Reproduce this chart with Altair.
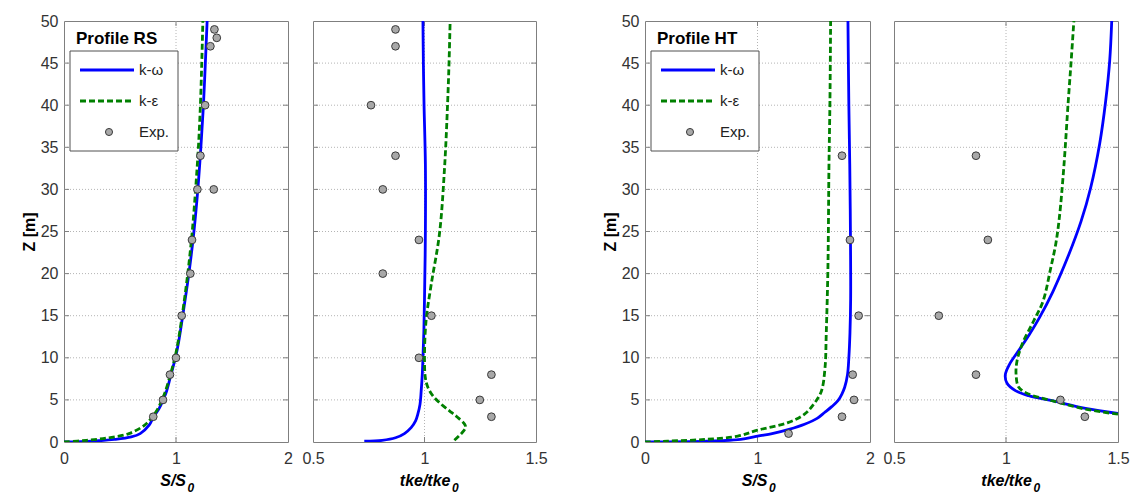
import altair as alt
import pandas as pd

FONT = "Liberation Sans"

# ---------------- data ----------------
# Panel 1: Profile RS, S/S0
rs_s_kw_y = [0, 0.1, 0.3, 0.6, 1, 2, 3, 4, 5, 6, 8, 10, 12, 15, 20, 25, 30, 35, 40, 45, 50]
rs_s_kw_x = [0, 0.25, 0.45, 0.6, 0.68, 0.76, 0.80, 0.85, 0.885, 0.915, 0.955, 0.995, 1.025,
             1.06, 1.115, 1.16, 1.195, 1.222, 1.245, 1.262, 1.278]
rs_s_ke_y = [0, 0.2, 0.5, 1, 2, 3, 4, 5, 6, 8, 10, 12, 15, 20, 25, 30, 35, 40, 45, 50]
rs_s_ke_x = [0, 0.2, 0.4, 0.58, 0.72, 0.79, 0.84, 0.875, 0.905, 0.95, 0.99, 1.02, 1.055,
             1.105, 1.145, 1.175, 1.2, 1.218, 1.23, 1.24]
rs_s_exp_x = [1.343, 1.364, 1.307, 1.26, 1.218, 1.191, 1.337, 1.143, 1.128, 1.051, 1.0, 0.946, 0.884, 0.797]
rs_s_exp_y = [49, 48, 47, 40, 34, 30, 30, 24, 20, 15, 10, 8, 5, 3]

# Panel 2: Profile RS, tke/tke0
rs_t_kw_y = [0.1, 0.2, 0.5, 1, 1.7, 2.5, 3.3, 4.5, 6, 8, 10, 13, 17, 25, 33, 40, 45, 50]
rs_t_kw_x = [0.73, 0.81, 0.87, 0.91, 0.94, 0.96, 0.97, 0.98, 0.985, 0.99, 0.993, 0.997,
             1.0, 1.004, 1.004, 0.998, 0.995, 0.993]
rs_t_ke_y = [0.2, 1.0, 1.7, 2.1, 3, 3.7, 4.6, 5.5, 6.5, 7.6, 10, 14.4, 18.7, 24.7, 32.6, 40.5, 45, 50]
rs_t_ke_x = [1.134, 1.165, 1.184, 1.18, 1.145, 1.112, 1.07, 1.037, 1.015, 1.004, 1.0, 1.007,
             1.03, 1.067, 1.09, 1.104, 1.11, 1.115]
rs_t_exp_x = [0.870, 0.870, 0.760, 0.870, 0.813, 0.975, 0.813, 1.031, 0.975, 1.30, 1.248, 1.30]
rs_t_exp_y = [49, 47, 40, 34, 30, 24, 20, 15, 10, 8, 5, 3]

# Panel 3: Profile HT, S/S0
ht_s_kw_y = [0, 0.1, 0.3, 0.7, 1.0, 1.5, 2.1, 2.8, 3.5, 4.2, 4.9, 5.7, 6.5, 8, 10, 13, 17, 25, 33, 40, 50]
ht_s_kw_x = [0, 0.55, 0.85, 1.0, 1.13, 1.28, 1.418, 1.53, 1.596, 1.66, 1.715, 1.75, 1.775,
             1.8, 1.812, 1.822, 1.828, 1.826, 1.82, 1.812, 1.804]
ht_s_ke_y = [0, 0.1, 0.3, 0.7, 1.4, 2.3, 3.3, 4.5, 6, 8.8, 12.8, 20.7, 32.6, 40.5, 50]
ht_s_ke_x = [0, 0.2, 0.53, 0.825, 1.0, 1.27, 1.418, 1.5, 1.567, 1.6, 1.611, 1.626, 1.635, 1.644, 1.65]
ht_s_exp_x = [1.751, 1.822, 1.899, 1.846, 1.858, 1.751, 1.276]
ht_s_exp_y = [34, 24, 15, 8, 5, 3, 1]

# Panel 4: Profile HT, tke/tke0
ht_t_kw_y = [3.4, 4.0, 4.9, 5.5, 6.1, 7.0, 8.0, 9.2, 10.8, 12.8, 14.8, 17.9, 21.9, 26.2,
             30.2, 35.4, 40.5, 45.3, 50]
ht_t_kw_x = [1.5, 1.355, 1.206, 1.101, 1.042, 1.004, 0.997, 1.015, 1.055, 1.105, 1.15,
             1.21, 1.275, 1.335, 1.378, 1.418, 1.445, 1.463, 1.472]
ht_t_ke_y = [3.3, 3.9, 4.9, 5.7, 6.5, 8.0, 9.6, 11.6, 14.4, 16.7, 20.7, 23.5, 26.6, 32.6,
             40.5, 45.3, 50]
ht_t_ke_x = [1.5, 1.355, 1.206, 1.101, 1.057, 1.045, 1.049, 1.072, 1.124, 1.165, 1.2,
             1.222, 1.238, 1.258, 1.278, 1.291, 1.303]
ht_t_exp_x = [0.866, 0.919, 0.70, 0.866, 1.243, 1.352]
ht_t_exp_y = [34, 24, 15, 8, 5, 3]

y_ticks = list(range(0, 51, 5))
y_grid = list(range(5, 50, 5))
s_ticks = [0, 1, 2]
t_ticks = [0.5, 1, 1.5]

series_names = ["k-\u03c9", "k-\u03b5", "Exp."]
BLUE = "#0000ff"
GREEN = "#008000"
H = 421
GRID_COLOR = "#b4b4b4"
TICK_COLOR = "#808080"
LABEL_COLOR = "#333333"


def line_df(xs, ys):
    return pd.DataFrame({"x": xs, "y": ys, "i": list(range(len(xs)))})


def panel(kw, ke, exp, xdom, xticks, inner_x, width, title_main, title_dx,
          show_y=False, profile=None):
    xs = alt.Scale(domain=xdom, nice=False, zero=False)
    ys = alt.Scale(domain=[0, 50], nice=False, zero=False)
    xaxis = alt.Axis(values=xticks, format="~g", grid=False, ticks=False, domain=False,
                     labelFont=FONT, labelFontSize=16, labelColor=LABEL_COLOR,
                     labelPadding=8, labelFlush=False)
    if show_y:
        yaxis = alt.Axis(values=y_ticks, grid=False, ticks=False, domain=False,
                         labelFont=FONT, labelFontSize=16, labelColor=LABEL_COLOR,
                         labelPadding=6, title="Z [m]", titleFont=FONT,
                         titleFontSize=16, titleFontWeight="bold",
                         titleColor="#000000", titlePadding=3)
    else:
        yaxis = None

    X = lambda f: alt.X(f, scale=xs, axis=xaxis, title=None)
    Y = lambda f: alt.Y(f, scale=ys, axis=yaxis)

    gy = pd.DataFrame({"y": y_grid})
    gx = pd.DataFrame({"x": inner_x})
    dot = [1, 2]

    hgrid = alt.Chart(gy).mark_rule(color=GRID_COLOR, strokeDash=dot, strokeWidth=1).encode(
        y=Y("y:Q"), x=alt.value(0), x2=alt.value(width))
    vgrid = alt.Chart(gx).mark_rule(color=GRID_COLOR, strokeDash=dot, strokeWidth=1).encode(
        x=X("x:Q"), y=alt.value(0), y2=alt.value(H))
    tl = alt.Chart(gy).mark_rule(color=TICK_COLOR, strokeWidth=1).encode(
        y=Y("y:Q"), x=alt.value(0), x2=alt.value(5))
    tr = alt.Chart(gy).mark_rule(color=TICK_COLOR, strokeWidth=1).encode(
        y=Y("y:Q"), x=alt.value(width - 5), x2=alt.value(width))
    tb = alt.Chart(gx).mark_rule(color=TICK_COLOR, strokeWidth=1).encode(
        x=X("x:Q"), y=alt.value(H - 5), y2=alt.value(H))
    tt = alt.Chart(gx).mark_rule(color=TICK_COLOR, strokeWidth=1).encode(
        x=X("x:Q"), y=alt.value(0), y2=alt.value(5))

    l_kw = alt.Chart(line_df(*kw)).mark_line(color=BLUE, strokeWidth=2.8, clip=True,
                                             interpolate="catmull-rom").encode(
        x=X("x:Q"), y=Y("y:Q"), order=alt.Order("i:Q"))
    l_ke = alt.Chart(line_df(*ke)).mark_line(color=GREEN, strokeWidth=2.8, strokeDash=[6, 3],
                                             clip=True, interpolate="catmull-rom").encode(
        x=X("x:Q"), y=Y("y:Q"), order=alt.Order("i:Q"))
    pts = alt.Chart(pd.DataFrame({"x": exp[0], "y": exp[1]})).mark_point(
        filled=True, fill="#a8a8a8", stroke="#3a3a3a", strokeWidth=1, size=60, opacity=1,
        shape="circle").encode(x=X("x:Q"), y=Y("y:Q"))

    one = pd.DataFrame({"a": [0]})
    cx = width / 2
    t_main = alt.Chart(one).mark_text(text=title_main, font=FONT, fontSize=16, fontWeight="bold",
                                      fontStyle="italic", align="right", baseline="alphabetic",
                                      color="#000000").encode(
        x=alt.value(cx + title_dx), y=alt.value(H + 44))
    t_sub = alt.Chart(one).mark_text(text="0", font=FONT, fontSize=12, fontWeight="bold",
                                     fontStyle="italic", align="left", baseline="alphabetic",
                                     color="#000000").encode(
        x=alt.value(cx + title_dx + 1.5), y=alt.value(H + 50))

    layers = [hgrid, vgrid, tl, tr, tb, tt, l_kw, l_ke, pts]

    if profile:
        ptxt = alt.Chart(one).mark_text(text=profile, font=FONT, fontSize=17, fontWeight="bold",
                                        align="left", baseline="alphabetic",
                                        color="#000000").encode(
            x=alt.value(12), y=alt.value(23))
        box = alt.Chart(one).mark_rect(fill="white", stroke="#505050", strokeWidth=1).encode(
            x=alt.value(6), x2=alt.value(114), y=alt.value(30), y2=alt.value(130))
        s1 = alt.Chart(one).mark_rule(color=BLUE, strokeWidth=2.8).encode(
            x=alt.value(16), x2=alt.value(70), y=alt.value(49))
        s2 = alt.Chart(one).mark_rule(color=GREEN, strokeWidth=2.8, strokeDash=[6, 3]).encode(
            x=alt.value(16), x2=alt.value(70), y=alt.value(80))
        s3 = alt.Chart(one).mark_point(filled=True, fill="#a8a8a8", stroke="#3a3a3a",
                                       strokeWidth=1, size=50, opacity=1,
                                       shape="circle").encode(
            x=alt.value(45), y=alt.value(111))
        labs = []
        for name, yy in zip(series_names, [49, 80, 111]):
            labs.append(alt.Chart(one).mark_text(text=name, font=FONT, fontSize=15,
                                                 align="left", baseline="middle",
                                                 color="#222222").encode(
                x=alt.value(75), y=alt.value(yy)))
        layers += [ptxt, box, s1, s2, s3] + labs

    layers += [t_main, t_sub]
    return alt.layer(*layers).properties(width=width, height=H)


p1 = panel((rs_s_kw_x, rs_s_kw_y), (rs_s_ke_x, rs_s_ke_y), (rs_s_exp_x, rs_s_exp_y),
           [0, 2], s_ticks, [1], 224, "S/S", 10, show_y=True, profile="Profile RS")
p2 = panel((rs_t_kw_x, rs_t_kw_y), (rs_t_ke_x, rs_t_ke_y), (rs_t_exp_x, rs_t_exp_y),
           [0.5, 1.5], t_ticks, [1], 223, "tke/tke", 26)
p3 = panel((ht_s_kw_x, ht_s_kw_y), (ht_s_ke_x, ht_s_ke_y), (ht_s_exp_x, ht_s_exp_y),
           [0, 2], s_ticks, [1], 225, "S/S", 10, show_y=True, profile="Profile HT")
p4 = panel((ht_t_kw_x, ht_t_kw_y), (ht_t_ke_x, ht_t_ke_y), (ht_t_exp_x, ht_t_exp_y),
           [0.5, 1.5], t_ticks, [1], 224, "tke/tke", 26)

left = alt.hconcat(p1, p2, spacing=8)
right = alt.hconcat(p3, p4, spacing=7)
chart = alt.hconcat(left, right, spacing=53).properties(
    padding={"left": 20, "top": 12, "right": 0, "bottom": 0}
).configure_view(stroke="#7f7f7f", strokeWidth=1)

chart.save("out.html", embed_options={"renderer": "svg", "actions": False})
